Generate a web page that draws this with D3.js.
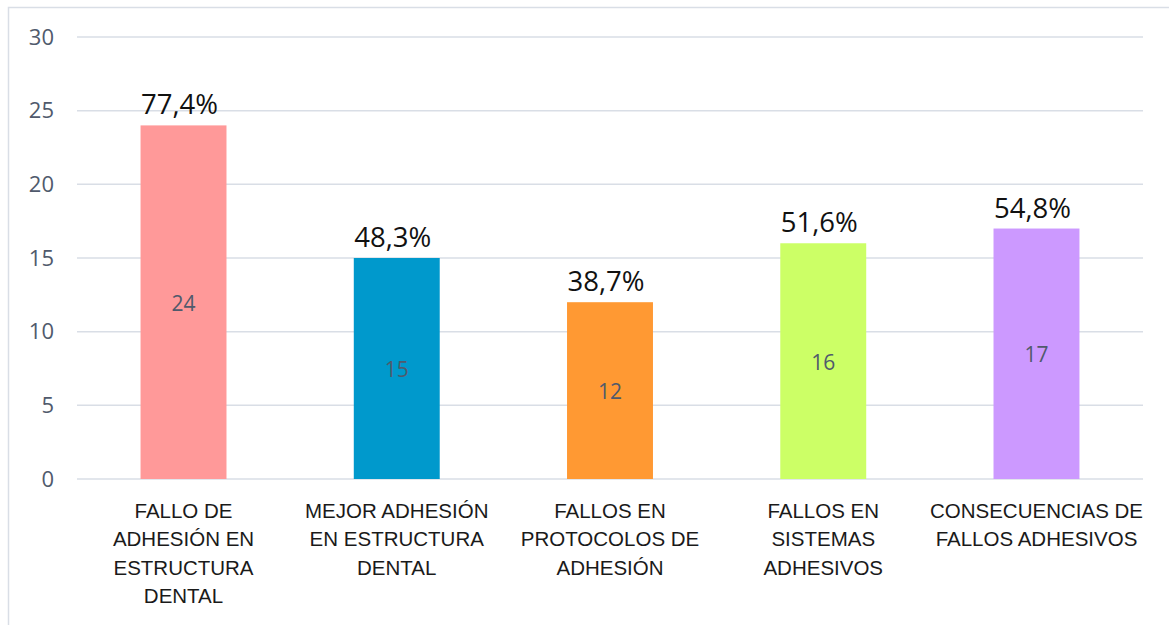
<!DOCTYPE html>
<html><head><meta charset="utf-8">
<script src="https://cdn.jsdelivr.net/npm/d3@7"></script>
<style>body{margin:0;background:#fff;} svg{display:block;}</style>
</head><body>
<svg id="c" width="1169" height="625"></svg>
<script>
const categories = [
  ["FALLO DE","ADHESIÓN EN","ESTRUCTURA","DENTAL"],
  ["MEJOR ADHESIÓN","EN ESTRUCTURA","DENTAL"],
  ["FALLOS EN","PROTOCOLOS DE","ADHESIÓN"],
  ["FALLOS EN","SISTEMAS","ADHESIVOS"],
  ["CONSECUENCIAS DE","FALLOS ADHESIVOS"]
];
const values = [24, 15, 12, 16, 17];
const percents = ["77,4%", "48,3%", "38,7%", "51,6%", "54,8%"];
const colors = ["#FF9999", "#0099CC", "#FF9933", "#CCFF66", "#CC99FF"];
const yTicks = [0, 5, 10, 15, 20, 25, 30];

(function(){
const svg = d3.select("#c");
const W = 1169, H = 625;
const mL = 77, mR = 1143, mT = 37, mB = 479;

svg.append("rect").attr("x", 8.5).attr("y", 7.5).attr("width", W + 10).attr("height", H + 10)
  .attr("fill", "none").attr("stroke", "#D9DEE6").attr("stroke-width", 1.5);

const x = d3.scaleBand().domain(d3.range(values.length)).range([mL, mR]).paddingInner(0.597).paddingOuter(0.298);
const y = d3.scaleLinear().domain([0, 30]).range([mB, mT]);

svg.append("g").selectAll("line").data(yTicks).join("line")
  .attr("x1", mL).attr("x2", mR)
  .attr("y1", d => y(d)).attr("y2", d => y(d))
  .attr("stroke", "#D9DEE6").attr("stroke-width", 1.5);

const yAxis = svg.append("g").attr("transform", `translate(54,0)`)
  .call(d3.axisLeft(y).tickValues(yTicks).tickSize(0).tickPadding(0));
yAxis.select(".domain").remove();
yAxis.selectAll("text").attr("font-family", "'Open Sans', sans-serif").attr("font-size", 22)
  .attr("fill", "#505A6C");

svg.append("g").selectAll("rect").data(values).join("rect")
  .attr("x", (d, i) => x(i)).attr("width", x.bandwidth())
  .attr("y", d => y(d)).attr("height", d => y(0) - y(d))
  .attr("fill", (d, i) => colors[i]);

svg.append("g").selectAll("text").data(values).join("text")
  .attr("x", (d, i) => x(i) + x.bandwidth() / 2)
  .attr("y", d => (y(d) + y(0)) / 2 + 8.5)
  .attr("text-anchor", "middle")
  .attr("font-family", "'Open Sans', sans-serif").attr("font-size", 21)
  .attr("fill", "#505A6C")
  .text(d => d);

svg.append("g").selectAll("text").data(values).join("text")
  .attr("x", (d, i) => x(i) + x.bandwidth() / 2 - 4)
  .attr("y", d => y(d) - 11)
  .attr("text-anchor", "middle")
  .attr("font-family", "'Open Sans', sans-serif").attr("font-size", 27.5)
  .attr("fill", "#111")
  .text((d, i) => percents[i]);

const labels = svg.append("g");
categories.forEach((lines, i) => {
  const t = labels.append("text")
    .attr("text-anchor", "middle")
    .attr("font-family", "'Liberation Sans', Arial, sans-serif").attr("font-size", 20.5)
    .attr("fill", "#1a1a1a");
  lines.forEach((ln, j) => {
    t.append("tspan").attr("x", x(i) + x.bandwidth() / 2).attr("y", 518 + j * 28.3).text(ln);
  });
});
})();
</script>
</body></html>
